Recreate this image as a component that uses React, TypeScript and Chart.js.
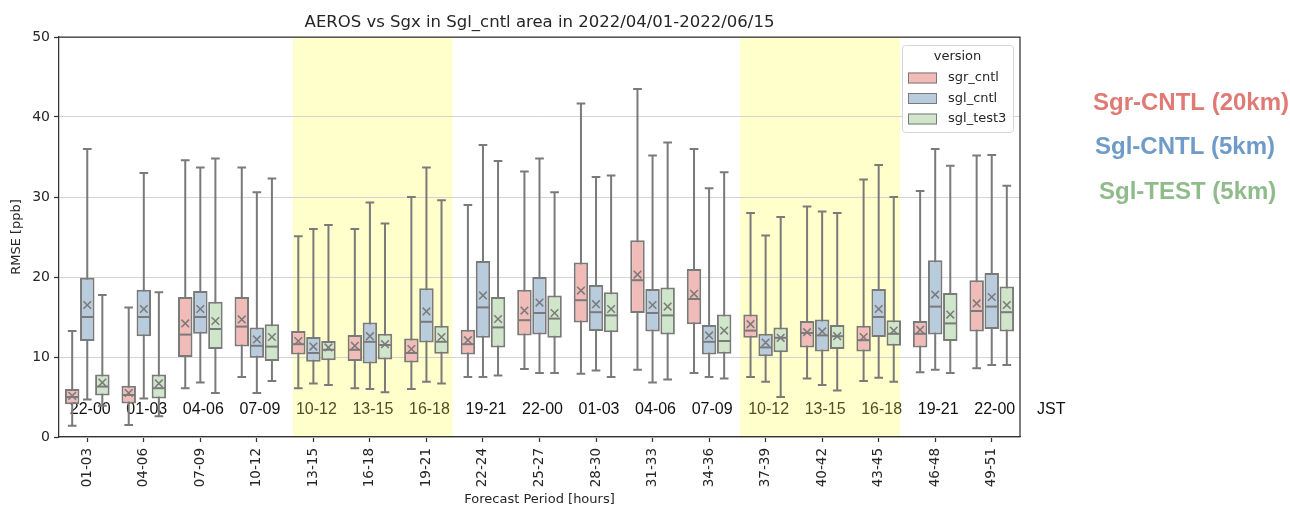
import React, { useEffect, useRef } from 'react';
import { Chart, registerables } from 'chart.js';

Chart.register(...registerables);

const categories = ['01-03', '04-06', '07-09', '10-12', '13-15', '16-18', '19-21', '22-24', '25-27', '28-30', '31-33', '34-36', '37-39', '40-42', '43-45', '46-48', '49-51'];
const jstLabels = ['22-00', '01-03', '04-06', '07-09', '10-12', '13-15', '16-18', '19-21', '22-00', '01-03', '04-06', '07-09', '10-12', '13-15', '16-18', '19-21', '22-00'];
const seriesNames = ['sgr_cntl', 'sgl_cntl', 'sgl_test3'];
const seriesColors = ['#f1bcb8', '#b9ccdd', '#cfe6ca'];
const sideLabels = ['Sgr-CNTL (20km)', 'Sgl-CNTL (5km)', 'Sgl-TEST (5km)'];
const sideColors = ['#e07a75', '#6f9bc8', '#8fbc8a'];
// shaded ranges in category-index units
const shadeRanges = [[3.64, 6.46], [11.55, 14.38]];

// sgr_cntl
const sgrLow = [1.4, 1.5, 6.1, 7.5, 6.1, 6.1, 6.0, 7.5, 8.5, 7.9, 8.4, 8.0, 7.5, 7.3, 7.0, 8.1, 8.6];
const sgrQ1 = [4.1, 4.2, 10.0, 11.3, 10.3, 9.5, 9.3, 10.3, 12.7, 14.3, 15.5, 14.1, 12.4, 11.2, 10.7, 11.2, 13.2];
const sgrMed = [5.0, 5.25, 12.8, 13.8, 11.6, 10.9, 10.5, 11.6, 14.6, 17.1, 19.6, 17.25, 13.3, 13.0, 12.1, 12.9, 15.75];
const sgrQ3 = [6.0, 6.4, 17.5, 17.5, 13.25, 12.75, 12.3, 13.4, 18.4, 21.8, 24.6, 21.0, 15.3, 14.5, 13.9, 14.5, 19.6];
const sgrHigh = [13.25, 16.2, 34.6, 33.7, 25.1, 26.0, 30.0, 29.0, 33.2, 41.7, 43.5, 36.0, 28.0, 28.8, 32.2, 30.75, 35.2];
const sgrMean = [5.15, 5.5, 14.2, 14.7, 12.0, 11.4, 11.0, 12.1, 15.8, 18.3, 20.3, 17.9, 14.1, 13.1, 12.5, 13.4, 16.7];

// sgl_cntl
const sglLow = [4.7, 4.8, 6.8, 5.5, 6.7, 6.0, 6.9, 7.5, 8.0, 8.3, 6.8, 7.5, 6.9, 6.5, 7.4, 8.4, 9.0];
const sglQ1 = [12.0, 12.6, 12.9, 9.9, 9.4, 9.2, 11.8, 12.4, 12.8, 13.25, 13.2, 10.3, 10.1, 10.7, 12.5, 12.8, 13.5];
const sglMed = [15.0, 15.0, 15.0, 11.4, 10.5, 11.9, 14.4, 16.2, 15.5, 15.6, 15.5, 11.9, 11.2, 12.7, 15.0, 16.3, 16.3];
const sglQ3 = [19.9, 18.4, 18.25, 13.7, 12.5, 14.3, 18.6, 22.0, 20.0, 19.0, 18.5, 14.0, 12.9, 14.7, 18.5, 22.1, 20.5];
const sglHigh = [36.0, 33.0, 33.7, 30.6, 26.0, 29.3, 33.7, 36.5, 34.8, 32.5, 35.2, 31.1, 25.2, 28.2, 34.0, 36.0, 35.25];
const sglMean = [16.5, 16.0, 16.0, 12.2, 11.3, 12.6, 15.7, 17.7, 16.8, 16.6, 16.5, 12.7, 11.8, 13.2, 16.0, 17.8, 17.5];

// sgl_test3
const tstLow = [3.9, 2.6, 5.5, 7.0, 6.5, 5.6, 6.7, 7.7, 8.0, 7.5, 7.2, 7.3, 5.0, 5.8, 6.9, 8.0, 9.0];
const tstQ1 = [5.2, 4.8, 11.0, 9.5, 9.6, 9.7, 10.4, 11.2, 12.4, 13.1, 12.8, 10.4, 10.6, 11.0, 11.4, 12.0, 13.2];
const tstMed = [6.3, 6.1, 13.5, 11.3, 10.9, 11.5, 11.9, 13.7, 14.8, 15.2, 15.2, 12.0, 12.4, 12.6, 12.9, 14.2, 15.6];
const tstQ3 = [7.8, 7.8, 16.9, 14.1, 12.0, 12.9, 13.9, 17.5, 17.7, 18.1, 18.7, 15.3, 13.7, 14.0, 14.6, 18.0, 18.8];
const tstHigh = [17.75, 18.1, 34.8, 32.3, 26.5, 26.7, 29.6, 34.5, 30.6, 32.7, 36.8, 33.1, 27.5, 28.0, 30.0, 33.9, 31.4];
const tstMean = [6.8, 6.7, 14.5, 12.5, 11.2, 11.6, 12.5, 14.75, 15.5, 16.0, 16.3, 13.3, 12.4, 12.6, 13.3, 15.3, 16.5];

const lows = [sgrLow, sglLow, tstLow];
const q1s = [sgrQ1, sglQ1, tstQ1];
const meds = [sgrMed, sglMed, tstMed];
const q3s = [sgrQ3, sglQ3, tstQ3];
const highs = [sgrHigh, sglHigh, tstHigh];
const means = [sgrMean, sglMean, tstMean];

const LINE = '#7a7a7a';
const TXT = '#262626';
const FONT = 'DejaVu Sans';

const boxPlugin = {
  id: 'boxExtras',
  beforeDraw(chart: any) {
    const { ctx, chartArea, scales } = chart;
    const x = scales.x;
    const x0 = x.getPixelForValue(0);
    const step = x.getPixelForValue(1) - x0;
    ctx.save();
    ctx.fillStyle = '#ffffcc';
    for (const [a, b] of shadeRanges) {
      const l = x0 + a * step;
      const r = x0 + b * step;
      ctx.fillRect(l, chartArea.top, r - l, chartArea.bottom - chartArea.top);
    }
    ctx.restore();
  },
  beforeDatasetsDraw(chart: any) {
    const { ctx, scales } = chart;
    const x = scales.x;
    const y = scales.y;
    const x0 = x.getPixelForValue(0);
    const step = x.getPixelForValue(1) - x0;
    ctx.save();
    // JST labels
    ctx.font = '16px "Liberation Sans", Arial, sans-serif';
    ctx.textAlign = 'center';
    ctx.textBaseline = 'middle';
    jstLabels.forEach((lab, i) => {
      const inShade = shadeRanges.some(([a, b]) => i >= a && i <= b);
      ctx.fillStyle = inShade ? '#4f4f1f' : '#111111';
      ctx.fillText(lab, x.getPixelForValue(i) + 3, y.getPixelForValue(3.4));
    });
    ctx.fillStyle = '#111111';
    ctx.textAlign = 'left';
    ctx.fillText('JST', x.getPixelForValue(categories.length - 1) + step * 0.8, y.getPixelForValue(3.4));
    // whiskers
    ctx.strokeStyle = LINE;
    ctx.lineWidth = 2;
    for (let d = 0; d < 3; d++) {
      const meta = chart.getDatasetMeta(d);
      meta.data.forEach((el: any, i: number) => {
        const cx = el.x;
        const half = el.width * 0.3;
        const yl = y.getPixelForValue(lows[d][i]);
        const yh = y.getPixelForValue(highs[d][i]);
        ctx.beginPath();
        ctx.moveTo(cx, yl);
        ctx.lineTo(cx, yh);
        ctx.moveTo(cx - half, yl);
        ctx.lineTo(cx + half, yl);
        ctx.moveTo(cx - half, yh);
        ctx.lineTo(cx + half, yh);
        ctx.stroke();
      });
    }
    ctx.restore();
  },
  afterDatasetsDraw(chart: any) {
    const { ctx, scales } = chart;
    const y = scales.y;
    ctx.save();
    ctx.strokeStyle = LINE;
    for (let d = 0; d < 3; d++) {
      const meta = chart.getDatasetMeta(d);
      meta.data.forEach((el: any, i: number) => {
        const cx = el.x;
        const hw = el.width / 2;
        const ym = y.getPixelForValue(meds[d][i]);
        ctx.lineWidth = 2;
        ctx.beginPath();
        ctx.moveTo(cx - hw + 1, ym);
        ctx.lineTo(cx + hw - 1, ym);
        ctx.stroke();
        const ya = y.getPixelForValue(means[d][i]);
        const s = 3.8;
        ctx.lineWidth = 1.5;
        ctx.beginPath();
        ctx.moveTo(cx - s, ya - s);
        ctx.lineTo(cx + s, ya + s);
        ctx.moveTo(cx - s, ya + s);
        ctx.lineTo(cx + s, ya - s);
        ctx.stroke();
      });
    }
    ctx.restore();
  },
  afterDraw(chart: any) {
    const { ctx, chartArea } = chart;
    ctx.save();
    // top and right spines
    ctx.strokeStyle = '#333333';
    ctx.lineWidth = 1.25;
    ctx.beginPath();
    ctx.moveTo(chartArea.left, chartArea.top);
    ctx.lineTo(chartArea.right, chartArea.top);
    ctx.lineTo(chartArea.right, chartArea.bottom);
    ctx.stroke();

    // legend
    const lw = 111;
    const lh = 87;
    const lx = chartArea.right - 7 - lw;
    const ly = chartArea.top + 8;
    ctx.fillStyle = 'rgba(255,255,255,0.85)';
    ctx.strokeStyle = '#d6d6d6';
    ctx.lineWidth = 1;
    ctx.beginPath();
    ctx.roundRect(lx + 0.5, ly + 0.5, lw, lh, 3);
    ctx.fill();
    ctx.stroke();
    ctx.fillStyle = TXT;
    ctx.font = `13px "${FONT}"`;
    ctx.textAlign = 'center';
    ctx.textBaseline = 'middle';
    ctx.fillText('version', lx + lw / 2, ly + 12);
    ctx.textAlign = 'left';
    seriesNames.forEach((name, k) => {
      const yy = ly + 33 + k * 20.5;
      ctx.fillStyle = seriesColors[k];
      ctx.fillRect(lx + 6, yy - 5.5, 29, 11);
      ctx.strokeStyle = LINE;
      ctx.lineWidth = 1;
      ctx.strokeRect(lx + 6.5, yy - 5, 28, 10);
      ctx.fillStyle = TXT;
      ctx.fillText(name, lx + 46, yy);
    });

    // side labels
    ctx.font = 'bold 24px "Liberation Sans", Arial, sans-serif';
    const sx = [1093, 1095, 1099];
    const sy = [103, 147, 192];
    sideLabels.forEach((t, k) => {
      ctx.fillStyle = sideColors[k];
      ctx.fillText(t, sx[k], sy[k]);
    });
    ctx.restore();
  },
};

export default function App() {
  const ref = useRef<HTMLCanvasElement | null>(null);
  useEffect(() => {
    if (!ref.current) return;
    const datasets = seriesNames.map((name, d) => ({
      label: name,
      data: categories.map((_, i) => [q1s[d][i], q3s[d][i]]),
      backgroundColor: seriesColors[d],
      borderColor: LINE,
      borderWidth: 2,
      borderSkipped: false,
      categoryPercentage: 0.8,
      barPercentage: 0.96,
    }));
    const chart = new Chart(ref.current, {
      type: 'bar',
      data: { labels: categories, datasets: datasets as any },
      plugins: [boxPlugin],
      options: {
        responsive: false,
        animation: false,
        devicePixelRatio: 1,
        events: [],
        layout: { padding: { left: 0, right: 270, top: 0, bottom: 0 } },
        plugins: {
          legend: { display: false },
          tooltip: { enabled: false },
          title: {
            display: true,
            fullSize: false,
            text: 'AEROS vs Sgx in Sgl_cntl area in 2022/04/01-2022/06/15',
            color: TXT,
            font: { family: FONT, size: 16.5, weight: 'normal', lineHeight: 1.2 },
            padding: { top: 13.1, bottom: 4.1 },
          },
        },
        scales: {
          x: {
            type: 'category',
            offset: true,
            grid: { display: true, drawOnChartArea: false, offset: false, tickLength: 5, tickColor: '#333333', tickWidth: 1.25 },
            border: { display: true, color: '#333333', width: 1.25 },
            ticks: {
              autoSkip: false,
              minRotation: 90,
              maxRotation: 90,
              padding: 6,
              color: TXT,
              font: { family: FONT, size: 13.5 },
            },
            title: {
              display: true,
              text: 'Forecast Period [hours]',
              color: TXT,
              font: { family: FONT, size: 13, lineHeight: 1 },
              padding: 0,
            },
            afterFit: (s: any) => {
              s.height = 69;
            },
          },
          y: {
            min: 0,
            max: 50,
            ticks: { stepSize: 10, padding: 4, color: TXT, font: { family: FONT, size: 14 } },
            grid: { color: '#d3d3d3', lineWidth: 1, tickColor: '#333333', tickLength: 5, tickWidth: 1.25 },
            border: { display: true, color: '#333333', width: 1.25 },
            title: {
              display: true,
              text: 'RMSE [ppb]',
              color: TXT,
              font: { family: FONT, size: 13, lineHeight: 1 },
              padding: { top: 10.5, bottom: 0 },
            },
            afterFit: (s: any) => {
              s.width = 59;
            },
          },
        },
      } as any,
    });
    return () => chart.destroy();
  }, []);
  return (
    <div style={{ position: 'absolute', left: 0, top: 0, width: 1290, height: 506, background: '#ffffff' }}>
      <canvas ref={ref} width={1290} height={506} style={{ display: 'block' }} />
    </div>
  );
}
